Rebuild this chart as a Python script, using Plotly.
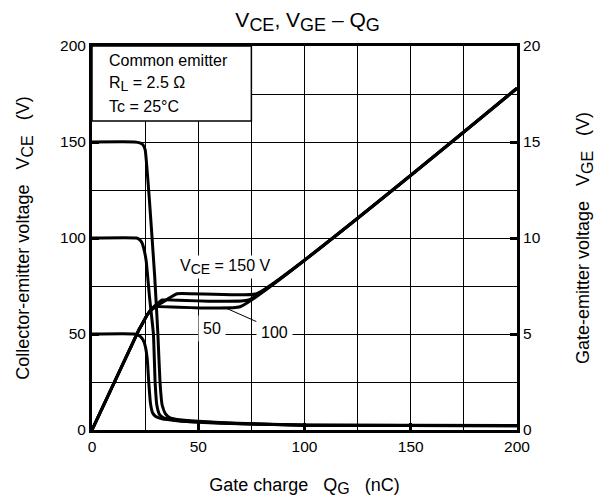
import plotly.graph_objects as go

# ---- data ----
qg_vce150 = [0, 20, 22.5, 24, 25, 27, 29.5, 31, 32, 33, 34.5, 36.5, 40, 50, 70, 100, 200]
vce_150 = [150, 150, 149.5, 148.5, 146, 120, 80, 50, 25, 13, 8.5, 6.5, 5.5, 4.5, 3.3, 2.6, 2.3]

qg_vce100 = [0, 21, 22.5, 23.5, 24.5, 25.5, 27, 28.9, 29.7, 30.5, 31.8, 33.5, 37, 45, 60, 100, 200]
vce_100 = [100, 100, 99, 97.5, 94, 88, 70, 50, 25, 13, 8, 6.5, 5.5, 4.5, 3.8, 2.5, 2.2]

qg_vce50 = [0, 20, 22.5, 24, 25, 26, 26.7, 27.5, 28.5, 30, 33, 40, 50, 70, 100, 200]
vce_50 = [50, 50, 49, 47, 44, 37, 25, 14, 9, 7, 5.8, 4.8, 4, 3.2, 2.5, 2.2]

qg_vge150 = [0, 22, 24, 26, 28, 32.4, 40, 77.5, 200]
vge_150 = [0, 5.2, 5.6, 6.0, 6.3, 6.6, 7.1, 7.1, 17.8]

qg_vge100 = [0, 22, 24, 26, 28, 31, 33, 73.7, 200]
vge_100 = [0, 5.2, 5.6, 6.0, 6.3, 6.6, 6.77, 6.77, 17.8]

qg_vge50 = [0, 22, 24, 26, 28, 30, 69.7, 200]
vge_50 = [0, 5.2, 5.6, 6.0, 6.25, 6.42, 6.42, 17.8]

x_ticks = [0, 50, 100, 150, 200]
y_ticks = [0, 50, 100, 150, 200]
y2_ticks = [0, 5, 10, 15, 20]

FONT = "Liberation Sans, Arial, sans-serif"
LW = 3


def sub(t, px):
    return '<sub><span style="font-size:%dpx">%s</span></sub>' % (px, t)


fig = go.Figure()
for xs, ys in [(qg_vce150, vce_150), (qg_vce100, vce_100), (qg_vce50, vce_50)]:
    fig.add_trace(go.Scatter(x=xs, y=ys, mode="lines",
                             line=dict(color="black", width=LW, shape="spline", smoothing=0.4),
                             showlegend=False, hoverinfo="skip"))
for xs, ys in [(qg_vge150, vge_150), (qg_vge100, vge_100), (qg_vge50, vge_50)]:
    fig.add_trace(go.Scatter(x=xs, y=ys, mode="lines", yaxis="y2",
                             line=dict(color="black", width=LW, shape="spline", smoothing=0.3),
                             showlegend=False, hoverinfo="skip"))

sp = "\u00a0\u00a0\u00a0"
TICKF = dict(family=FONT, size=15.5, color="black")
TITF = dict(family=FONT, size=18, color="black")
axis_common = dict(showline=True, linecolor="black", linewidth=3, mirror=True,
                   ticks="inside", ticklen=7, tickwidth=2.5, tickcolor="black",
                   showgrid=True, gridcolor="black", gridwidth=1, zeroline=False,
                   tickfont=TICKF)

fig.update_layout(
    width=604, height=500,
    margin=dict(l=84, r=95, t=38, b=78),
    paper_bgcolor="white", plot_bgcolor="white",
    font=dict(family=FONT, color="black"),
    title=dict(text="V" + sub("CE", 18) + ", V" + sub("GE", 18) + " \u2013 Q" + sub("G", 18),
               x=0.496, xref="container", y=0.977, yref="container",
               xanchor="center", yanchor="middle",
               font=dict(family=FONT, size=21, color="black")),
    xaxis=dict(range=[0, 200], tickvals=x_ticks, ticktext=[str(v) for v in x_ticks],
               minor=dict(dtick=25, showgrid=True, gridcolor="black", gridwidth=1, ticks=""),
               title=dict(text="Gate charge" + sp + "Q" + sub("G", 16) + sp + "(nC)", standoff=25, font=TITF),
               **axis_common),
    yaxis=dict(range=[0, 200], tickvals=y_ticks, ticktext=[str(v) for v in y_ticks],
               minor=dict(dtick=25, showgrid=True, gridcolor="black", gridwidth=1, ticks=""),
               title=dict(text="Collector-emitter voltage" + sp + "V" + sub("CE", 16) + sp + "(V)",
                          standoff=26, font=TITF),
               **axis_common),
    yaxis2=dict(range=[0, 20], tickvals=y2_ticks, ticktext=[str(v) for v in y2_ticks],
                overlaying="y", side="right", showline=True, linecolor="black", linewidth=3,
                ticks="inside", ticklen=7, tickwidth=2.5, tickcolor="black", showgrid=False, zeroline=False,
                tickfont=TICKF,
                title=dict(text="Gate-emitter voltage" + sp + "V" + sub("GE", 16) + sp + "(V)",
                           standoff=37, font=TITF)),
)

# condition box
fig.add_shape(type="rect", xref="x", yref="y", x0=0, x1=75, y0=161, y1=200,
              fillcolor="white", line=dict(color="black", width=1.5), layer="between")
for txt, yv in [("Common emitter", 192.2), ("R" + sub("L", 14) + " = 2.5 \u03a9", 180.2),
                ("Tc = 25\u00b0C", 168.5)]:
    fig.add_annotation(x=0, y=yv, xref="x", yref="y", text=txt, showarrow=False, xanchor="left",
                       xshift=15, yanchor="middle", font=dict(family=FONT, size=16, color="black"))

# curve labels
fig.add_annotation(x=62.6, y=85, xref="x", yref="y", text="V" + sub("CE", 14) + " = 150 V", showarrow=False,
                   bgcolor="white", borderpad=1, font=dict(family=FONT, size=16, color="black"))
fig.add_annotation(x=56.5, y=53, xref="x", yref="y", text="50", showarrow=False,
                   bgcolor="white", borderpad=4, font=dict(family=FONT, size=16, color="black"))
fig.add_annotation(x=86, y=51, xref="x", yref="y", text="100", showarrow=False,
                   bgcolor="white", borderpad=4, font=dict(family=FONT, size=16, color="black"))
fig.add_shape(type="line", xref="x", yref="y", x0=77.5, y0=56.4, x1=62, y1=64,
              line=dict(color="black", width=1))

fig.write_html("out.html")
